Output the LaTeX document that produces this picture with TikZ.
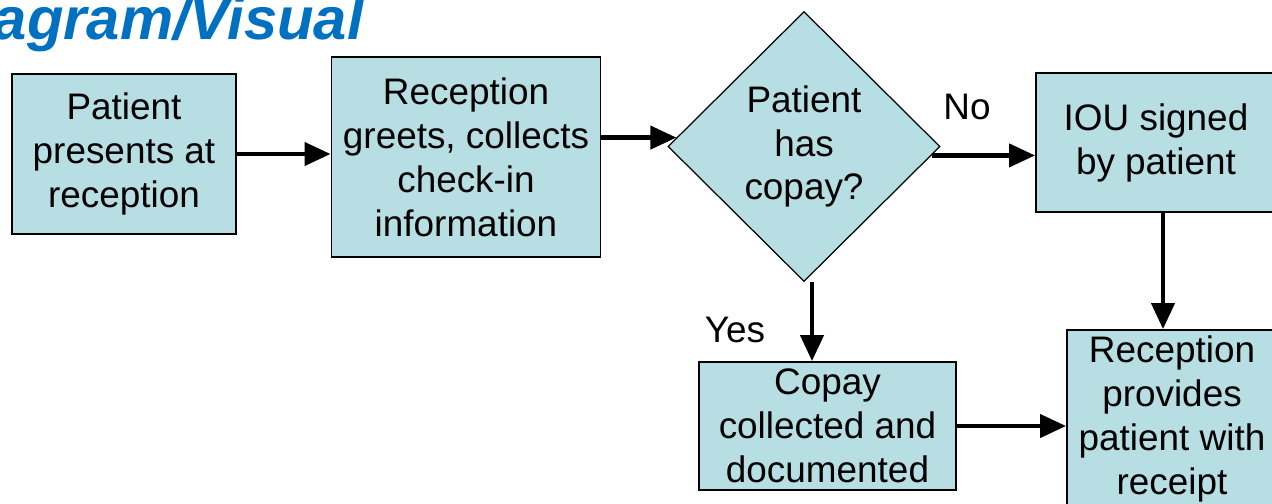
\documentclass[tikz,border=0pt]{standalone}
\usepackage{fontspec}
\setmainfont{Liberation Sans}
\usepackage{tikz}
\usetikzlibrary{arrows.meta,positioning,calc,shapes.geometric}
\definecolor{boxfill}{HTML}{B7DEE2}
\definecolor{heading}{HTML}{0070C0}
\tikzset{
  stepbox/.style={rectangle,draw=black,line width=1.1pt,fill=boxfill,inner sep=0pt,align=center,font=\fontsize{21}{25}\selectfont},
  choice/.style={diamond,draw=black,line width=0.7pt,fill=boxfill,inner sep=0pt,align=center,font=\fontsize{21}{25}\selectfont},
  flow/.style={-{Triangle[length=5.2mm,width=4.6mm]},line width=2.4pt},
  answer/.style={font=\fontsize{21}{25}\selectfont,inner sep=0pt}
}
\newcommand{\stepnode}[5]{
  \node[stepbox,minimum width=#3,minimum height=#4] (#1) at #2 {#5};
}

\begin{document}
\begin{tikzpicture}
  \clip (0,0) rectangle (25.44,-10.06);
  \node[font=\fontsize{34}{40}\selectfont\bfseries\itshape,text=heading,anchor=base east,inner sep=0pt] (title) at (7.28,-0.79) {Diagram/Visual};
  \stepnode{arrive}{(2.48,-3.08)}{4.48cm}{3.2cm}{Patient\\presents at\\reception}
  \stepnode{greet}{(9.32,-3.14)}{5.38cm}{4cm}{Reception\\greets, collects\\check-in\\information}
  \node[choice,minimum width=5.44cm,minimum height=5.4cm] (ask) at (16.08,-2.93) {Patient\\has\\copay?};
  \stepnode{iou}{(23.12,-2.85)}{4.8cm}{2.78cm}{IOU signed\\by patient}
  \stepnode{copay}{(16.55,-8.52)}{5.14cm}{2.56cm}{Copay\\collected and\\documented}
  \stepnode{receipt}{(23.44,-8.38)}{4.2cm}{3.56cm}{Reception\\provides\\patient with\\receipt}
  % connectors
  \draw[flow] (arrive.east) -- (arrive.east -| greet.west);
  \draw[flow] (ask.176 -| greet.east) -- (ask.176);
  \draw[flow] (ask.-4) -- (ask.-4 -| iou.west);
  \draw[flow] ([xshift=1.6mm]ask.south) -- ([xshift=1.6mm]ask.south |- copay.north);
  \draw[flow] ([xshift=1.4mm]iou.south) -- ([xshift=1.4mm]iou.south |- receipt.north);
  \draw[flow] (copay.east) -- (copay.east -| receipt.west);
  \node[answer] (no) at (19.34,-2.14) {No};
  \node[answer] (yes) at (14.7,-6.6) {Yes};
\end{tikzpicture}
\end{document}
